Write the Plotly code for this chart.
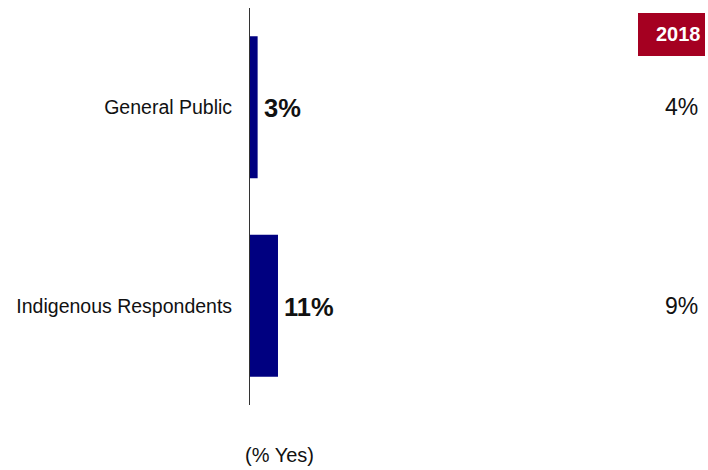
import plotly.graph_objects as go

# Share answering "Yes", current wave vs. 2018
categories = ["General Public", "Indigenous Respondents"]
current_pct = [3, 11]
prior_pct = [4, 9]
prior_label = "2018"
axis_note = "(% Yes)"

BAR_COLOR = "#000080"
HEADER_COLOR = "#A50021"
TEXT_COLOR = "#111111"
FONT = "Liberation Sans, Arial, sans-serif"

W, H = 708, 470
M_L, M_R, M_T, M_B = 250, 0, 8, 65
plot_w = W - M_L - M_R
plot_h = H - M_T - M_B


def px_x(px):
    return (px - M_L) / plot_w


def px_y(py):
    return (H - M_B - py) / plot_h


fig = go.Figure(
    go.Bar(
        y=categories,
        x=current_pct,
        orientation="h",
        marker=dict(color=BAR_COLOR, line=dict(width=0)),
        hoverinfo="skip",
    )
)

annotations = []
# bold value labels at the bar ends
for cat, v in zip(categories, current_pct):
    annotations.append(dict(
        x=v, y=cat, xref="x", yref="y", text=f"<b>{v}%</b>",
        showarrow=False, xanchor="left", yanchor="middle", xshift=4, yshift=-1,
        font=dict(family=FONT, size=25.5, color=TEXT_COLOR),
    ))
# 2018 comparison column
for cat, v in zip(categories, prior_pct):
    annotations.append(dict(
        x=px_x(700), y=cat, xref="paper", yref="y", text=f"{v}%",
        showarrow=False, xanchor="right", yanchor="middle",
        font=dict(family=FONT, size=23, color=TEXT_COLOR),
    ))
annotations.append(dict(
    x=px_x(678.5), y=px_y(34.5), xref="paper", yref="paper",
    text=f"<b>{prior_label}</b>", showarrow=False,
    xanchor="center", yanchor="middle",
    font=dict(family=FONT, size=20, color="white"),
))
annotations.append(dict(
    x=px_x(279), y=px_y(455), xref="paper", yref="paper",
    text=axis_note, showarrow=False, xanchor="center", yanchor="middle",
    font=dict(family=FONT, size=20, color=TEXT_COLOR),
))

shapes = [dict(
    type="rect", xref="paper", yref="paper",
    x0=px_x(638), x1=px_x(705), y0=px_y(56), y1=px_y(13),
    fillcolor=HEADER_COLOR, line=dict(width=0), layer="below",
)]

fig.update_layout(
    width=W, height=H,
    margin=dict(l=M_L, r=M_R, t=M_T, b=M_B, pad=0),
    paper_bgcolor="white", plot_bgcolor="white",
    showlegend=False,
    bargap=0.285,
    font=dict(family=FONT, color=TEXT_COLOR),
    xaxis=dict(range=[0, 180], visible=False, fixedrange=True),
    yaxis=dict(
        type="category", categoryorder="array", categoryarray=categories,
        range=[1.5, -0.5], showline=True, linecolor="#333333", linewidth=1,
        showgrid=False, zeroline=False, ticks="", ticklabelstandoff=13,
        tickfont=dict(family=FONT, size=19.5, color=TEXT_COLOR),
        fixedrange=True,
    ),
    annotations=annotations,
    shapes=shapes,
)

fig.write_html("out.html")
